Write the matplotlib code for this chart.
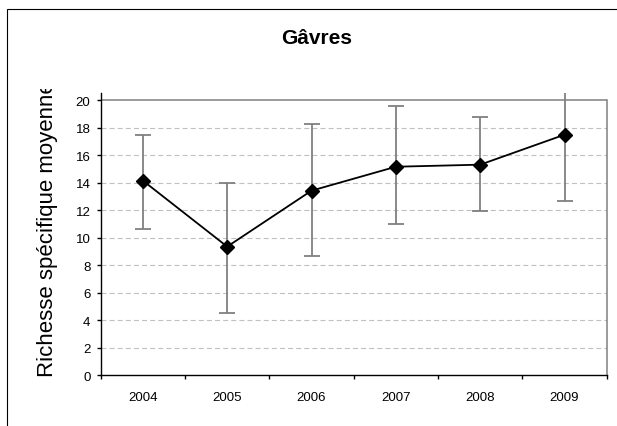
import matplotlib
matplotlib.use("Agg")
import matplotlib.pyplot as plt
from matplotlib.patches import Rectangle
from matplotlib.transforms import Bbox, TransformedBbox

plt.rcParams['font.family'] = ['Liberation Sans', 'DejaVu Sans']

# Data
years = ["2004", "2005", "2006", "2007", "2008", "2009"]
richesse = [14.15, 9.35, 13.42, 15.16, 15.31, 17.49]
err_low = [3.5, 4.8, 4.77, 4.2, 3.35, 4.8]
err_high = [3.35, 4.65, 4.83, 4.4, 3.5, 4.8]

W, H = 617, 427
fig = plt.figure(figsize=(W / 100, H / 100), dpi=100)

# outer chart frame (cut off on the right and bottom)
fig.patches.append(Rectangle((7 / W, -0.1), 1.2, 1.1 - 10 / H,
                             transform=fig.transFigure, fill=False,
                             edgecolor="black", linewidth=0.8))

ax = fig.add_axes([100.7 / W, 1 - 376.2 / H, 506 / W, (376.2 - 94.3) / H])

x = [i + 0.5 for i in range(len(years))]

ax.errorbar(x, richesse, yerr=[err_low, err_high], fmt="none",
            ecolor="#808080", elinewidth=1.3, capsize=5.8, capthick=1.3,
            zorder=3)
ax.plot(x, richesse, color="black", linewidth=1.3, marker="D",
        markersize=7, markerfacecolor="black", zorder=4)

ax.set_xlim(0, 6)
ax.set_ylim(0, 20.5)
ax.set_yticks(range(0, 21, 2))
ax.set_xticks(range(0, 7))
ax.set_xticklabels([])
ax.set_xticks(x, minor=True)
ax.set_xticklabels(years, minor=True)
ax.tick_params(axis="x", which="major", direction="out", length=3, width=1)
ax.tick_params(axis="x", which="minor", length=0, pad=11.5, labelsize=9.5)
ax.tick_params(axis="y", direction="out", length=3, width=1, pad=4.3,
               labelsize=9.5)

for yv in range(2, 20, 2):
    ax.axhline(yv, color="#c0c0c0", linewidth=0.8, dashes=(4.5, 2.8),
               zorder=1)
ax.axhline(20, color="#808080", linewidth=1.1, zorder=2)

ax.spines["top"].set_visible(False)
ax.spines["right"].set_color("#808080")
ax.spines["right"].set_linewidth(1.1)
ax.spines["right"].set_bounds(0, 20)
ax.spines["left"].set_linewidth(1.0)
ax.spines["bottom"].set_linewidth(1.0)

fig.text(316.7 / W, 1 - 44 / H, "Gâvres", ha="center", va="baseline",
         fontsize=15, fontweight="bold")

lab = fig.text(48 / W, 1 - 377 / H, "Richesse spécifique moyenne",
               rotation=90, ha="center", va="bottom", fontsize=16)
lab.set_clip_box(TransformedBbox(Bbox([[0, 0], [1, 1 - 90 / H]]),
                                 fig.transFigure))
lab.set_clip_on(True)

fig.savefig("out.png", dpi=100)
